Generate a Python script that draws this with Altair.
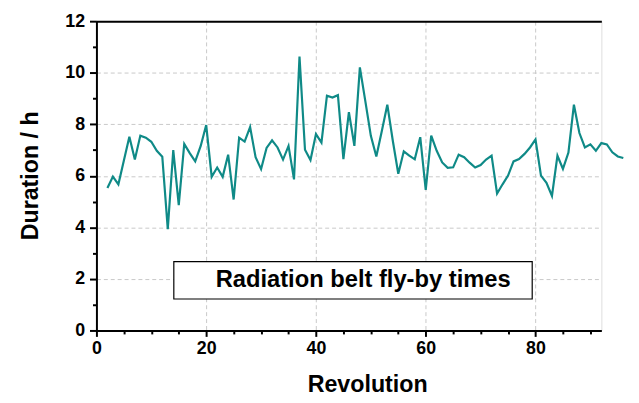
import altair as alt
import pandas as pd

# ---- data ----
revolution = list(range(2, 97))
duration = [
    5.53, 5.97, 5.67, 6.59, 7.52, 6.63, 7.56, 7.48, 7.32, 6.97,   # 2-11
    6.74, 3.93, 7.00, 4.86, 7.24, 6.88, 6.56, 7.16, 7.97, 5.96,   # 12-21
    6.32, 5.96, 6.82, 5.08, 7.48, 7.33, 7.89, 6.72, 6.26, 7.08,   # 22-31
    7.38, 7.10, 6.63, 7.16, 5.86, 10.63, 7.01, 6.61, 7.62, 7.29,  # 32-41
    9.11, 9.04, 9.13, 6.65, 8.47, 7.16, 10.21, 8.89, 7.55, 6.75,  # 42-51
    7.74, 8.76, 7.36, 6.08, 6.95, 6.78, 6.64, 7.50, 5.45, 7.56,   # 52-61
    6.97, 6.52, 6.31, 6.33, 6.82, 6.72, 6.51, 6.32, 6.42, 6.63,   # 62-71
    6.78, 5.31, 5.67, 6.01, 6.56, 6.65, 6.85, 7.10, 7.41, 6.01,   # 72-81
    5.73, 5.22, 6.78, 6.27, 6.90, 8.76, 7.66, 7.10, 7.22, 6.97,   # 82-91
    7.27, 7.22, 6.91, 6.75, 6.69,                                 # 92-96
]
x_ticks = list(range(0, 91, 5))
y_ticks = list(range(0, 13, 1))
box_label = ["Radiation belt fly-by times"]

df = pd.DataFrame({"rev": revolution, "dur": duration})

FONT = "Liberation Sans"
LINE_COLOR = "#0f8a87"

x_scale = alt.Scale(domain=[0, 92], nice=False, zero=False)
y_scale = alt.Scale(domain=[0, 12], nice=False)

x_axis = alt.Axis(
    values=x_ticks,
    labelExpr="datum.value % 20 == 0 ? datum.label : ''",
    tickSize={"condition": {"test": "datum.value % 20 == 0", "value": 6}, "value": 3.5},
    gridOpacity={"condition": {"test": "datum.value % 20 == 0 && datum.value > 0", "value": 1}, "value": 0},
    grid=True,
    gridDash=[4, 3],
    gridColor="#c8c8c8",
    gridWidth=1,
    ticks=True,
    domainColor="#000000",
    domainWidth=2,
    tickColor="#000000",
    tickWidth=2,
    labelFont=FONT,
    labelFontSize=18,
    labelFontWeight="bold",
    labelColor="#000000",
    labelPadding=3,
    labelFlush=False,
    title="Revolution",
    titleFont=FONT,
    titleFontSize=23.5,
    titleFontWeight="bold",
    titleColor="#000000",
    titleX=274,
    titleY=62,
    titleAlign="center",
    titleBaseline="alphabetic",
)

y_axis = alt.Axis(
    values=y_ticks,
    labelExpr="datum.value % 2 == 0 ? datum.label : ''",
    tickSize={"condition": {"test": "datum.value % 2 == 0", "value": 7}, "value": 4},
    gridOpacity={"condition": {"test": "datum.value % 2 == 0 && datum.value > 0 && datum.value < 12", "value": 1}, "value": 0},
    grid=True,
    gridDash=[4, 3],
    gridColor="#c8c8c8",
    gridWidth=1,
    ticks=True,
    domain=True,
    domainColor="#000000",
    domainWidth=2,
    tickColor="#000000",
    tickWidth=2,
    labelFont=FONT,
    labelFontSize=18,
    labelFontWeight="bold",
    labelColor="#000000",
    labelPadding=5,
    labelFlush=False,
    title="Duration / h",
    titleFont=FONT,
    titleFontSize=23.5,
    titleFontWeight="bold",
    titleColor="#000000",
    titleAngle=-90,
    titleX=-67,
    titleY=156,
    titleAlign="center",
    titleBaseline="middle",
)

base = alt.Chart(df)

line = base.mark_line(color=LINE_COLOR, strokeWidth=2.2).encode(
    x=alt.X("rev:Q", scale=x_scale, axis=x_axis),
    y=alt.Y("dur:Q", scale=y_scale, axis=y_axis),
)

top_axis = base.mark_line(opacity=0).encode(
    x=alt.X("rev:Q", scale=x_scale,
            axis=alt.Axis(orient="top", labels=False, ticks=False, grid=False,
                          domainColor="#000000", domainWidth=2, title=None)),
    y=alt.Y("dur:Q", scale=y_scale, axis=y_axis),
)

# annotation box (in data coordinates)
box_df = pd.DataFrame({"x0": [14.1], "x1": [79.4], "y0": [1.22], "y1": [2.67],
                       "xm": [48.6], "ym": [1.94], "label": box_label})

box = alt.Chart(box_df).mark_rect(fill="white", stroke="#000000", strokeWidth=1.2).encode(
    x=alt.X("x0:Q", scale=x_scale, axis=None), x2="x1:Q",
    y=alt.Y("y0:Q", scale=y_scale, axis=y_axis), y2="y1:Q",
)
box_text = alt.Chart(box_df).mark_text(
    font=FONT, fontSize=24, fontWeight="bold", color="#000000",
    align="center", baseline="middle",
).encode(
    x=alt.X("xm:Q", scale=x_scale, axis=None),
    y=alt.Y("ym:Q", scale=y_scale, axis=y_axis),
    text="label:N",
)

chart = alt.layer(line, top_axis, box, box_text).resolve_axis(
    x="independent"
).properties(
    width=511,
    height=313,
    autosize=alt.AutoSizeParams(type="none"),
    padding={"left": 89.5, "top": 11, "right": 30, "bottom": 64},
).configure_view(stroke=None).configure(background="white").configure_axisY(
    domainColor="#000000", tickColor="#000000"
)

chart.save("out.html", embed_options={"renderer": "svg", "actions": False})
